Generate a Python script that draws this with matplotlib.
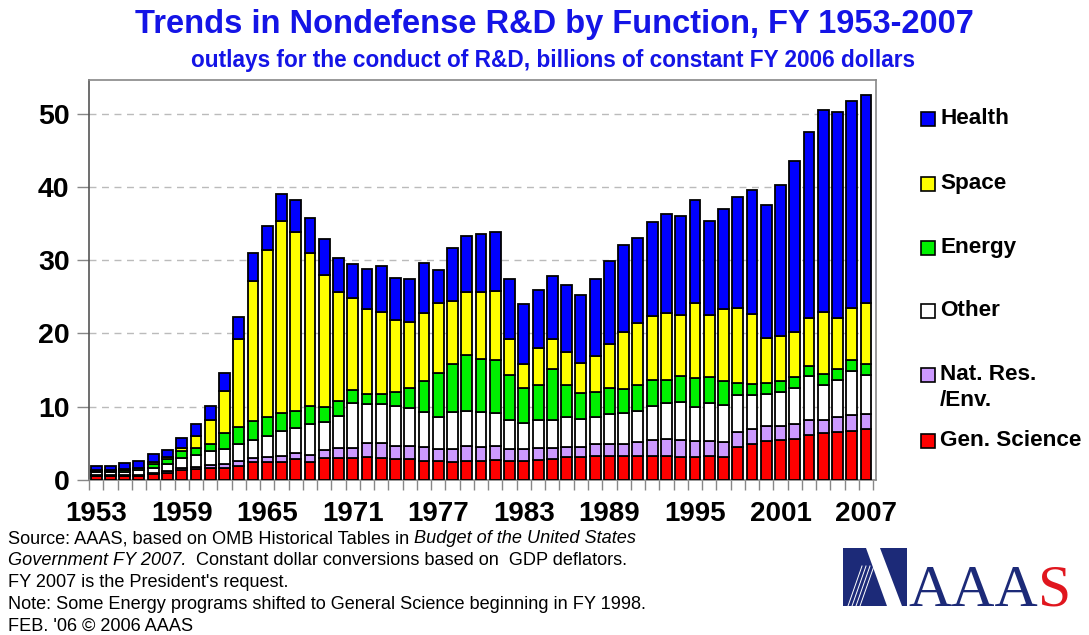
import matplotlib
matplotlib.use('Agg')
import matplotlib.pyplot as plt
from matplotlib.patches import Rectangle, Polygon
import numpy as np

# ---- data (billions of constant FY 2006 dollars) ----
years = list(range(1953, 2008))

gen_science = [0.5, 0.5, 0.55, 0.6, 0.8, 1.0, 1.3, 1.45, 1.6, 1.7,
               1.95, 2.4, 2.4, 2.5, 2.8, 2.5, 3.05, 2.95, 3.05, 3.2,
               2.95, 2.8, 2.8, 2.65, 2.65, 2.5, 2.6, 2.6, 2.7, 2.65,
               2.65, 2.7, 2.8, 3.1, 3.2, 3.3, 3.3, 3.3, 3.3, 3.3,
               3.3, 3.2, 3.2, 3.3, 3.2, 4.55, 4.85, 5.35, 5.45, 5.6,
               6.15, 6.45, 6.6, 6.7, 6.9]
nat_res = [0.15, 0.15, 0.15, 0.15, 0.2, 0.2, 0.3, 0.35, 0.45, 0.55,
           0.65, 0.6, 0.7, 0.8, 0.9, 0.9, 1.05, 1.35, 1.35, 1.8,
           2.05, 1.9, 1.9, 1.9, 1.55, 1.7, 2.1, 1.95, 1.95, 1.55,
           1.55, 1.6, 1.5, 1.45, 1.25, 1.6, 1.6, 1.6, 1.9, 2.15,
           2.25, 2.25, 2.15, 2.05, 2.0, 2.05, 2.05, 2.0, 1.95, 2.0,
           2.05, 1.75, 1.95, 2.15, 2.05]
other = [0.4, 0.4, 0.45, 0.55, 0.6, 1.0, 1.45, 1.6, 1.85, 2.0,
         2.3, 2.5, 2.95, 3.4, 3.35, 4.3, 3.85, 4.4, 6.05, 5.4,
         5.4, 5.4, 5.1, 4.75, 4.4, 5.1, 4.7, 4.75, 4.55, 4.0,
         3.6, 3.9, 3.9, 4.05, 3.85, 3.65, 4.1, 4.3, 4.2, 4.65,
         4.9, 5.25, 4.65, 5.1, 5.1, 5.0, 4.7, 4.35, 4.65, 5.0,
         6.0, 4.8, 5.15, 6.05, 5.35]
energy = [0.2, 0.2, 0.25, 0.3, 0.6, 0.6, 0.85, 0.9, 1.0, 2.15,
          2.4, 2.6, 2.5, 2.5, 2.35, 2.4, 2.05, 2.1, 1.85, 1.3,
          1.4, 1.85, 2.8, 4.2, 6.0, 6.5, 7.65, 7.15, 7.2, 6.1,
          4.7, 4.75, 7.0, 4.35, 3.6, 3.5, 3.5, 3.2, 3.55, 3.5,
          3.25, 3.5, 3.95, 3.65, 3.2, 1.7, 1.45, 1.6, 1.45, 1.4,
          1.4, 1.45, 1.4, 1.5, 1.5]
space = [0.1, 0.1, 0.1, 0.1, 0.2, 0.3, 0.5, 1.7, 3.3, 5.75,
         11.9, 19.05, 22.9, 26.1, 24.4, 20.9, 17.95, 14.8, 12.6, 11.7,
         11.15, 9.95, 9.0, 9.3, 9.5, 8.7, 8.65, 9.15, 9.4, 4.9,
         3.4, 5.0, 4.0, 4.55, 4.1, 4.85, 6.1, 7.8, 8.45, 8.8,
         9.1, 8.3, 10.25, 8.4, 9.8, 10.2, 9.65, 6.1, 6.1, 6.2,
         6.45, 8.5, 7.0, 7.1, 8.4]
health = [0.6, 0.55, 0.77, 0.9, 1.1, 1.0, 1.3, 1.6, 1.9, 2.5,
          3.1, 3.8, 3.2, 3.8, 4.4, 4.7, 4.95, 4.7, 4.6, 5.4,
          6.25, 5.7, 5.9, 6.8, 4.5, 7.1, 7.6, 8.0, 8.1, 8.2,
          8.1, 7.95, 8.6, 9.1, 9.3, 10.6, 11.3, 11.9, 11.6, 12.8,
          13.5, 13.5, 14.0, 12.9, 13.75, 15.1, 16.9, 18.2, 20.6, 23.3,
          25.45, 27.5, 28.2, 28.2, 28.3]

label_years = [1953, 1959, 1965, 1971, 1977, 1983, 1989, 1995, 2001, 2007]

# bottom to top stacking order
series = [
    ('Gen. Science', gen_science, '#ff0000'),
    ('Nat. Res.\n/Env.', nat_res, '#cc99ff'),
    ('Other', other, '#ffffff'),
    ('Energy', energy, '#00f000'),
    ('Space', space, '#ffff00'),
    ('Health', health, '#0000ff'),
]

TITLE_BLUE = '#1414e6'
W, H = 1089, 635
plt.rcParams['font.family'] = ['Liberation Sans', 'DejaVu Sans']

fig = plt.figure(figsize=(W / 100, H / 100), dpi=100)
fig.patch.set_facecolor('white')

# main plot area (pixel box: x 89..876, y 80..480)
ax = fig.add_axes([89 / W, 1 - 480 / H, (876 - 89) / W, 400 / H])

x = np.array(years)
bottom = np.zeros(len(years))
for name, vals, col in series:
    vals = np.array(vals)
    ax.bar(x, vals, bottom=bottom, width=0.76, color=col,
           edgecolor='black', linewidth=1.3, zorder=3)
    bottom += vals

ax.set_xlim(1952.5, 2007.7)
ax.set_ylim(0, 54.6)

ax.set_yticks([0, 10, 20, 30, 40, 50])
ax.set_yticklabels(['0', '10', '20', '30', '40', '50'],
                   fontsize=20.5, fontweight='bold')
ax.tick_params(axis='y', length=9, width=1, color='#888888', pad=5)
for yv in [10, 20, 30, 40, 50]:
    ax.axhline(yv, color='#bbbbbb', linestyle=(0, (5, 4)), linewidth=1, zorder=1)

ax.set_xticks(label_years)
ax.set_xticklabels([str(y) for y in label_years], fontsize=20, fontweight='bold')
ax.tick_params(axis='x', which='major', length=0, pad=15)
ax.set_xticks(np.arange(1952.5, 2008, 1.0), minor=True)
ax.tick_params(axis='x', which='minor', length=7, width=1, color='#888888')

for sp in ['top', 'right', 'bottom']:
    ax.spines[sp].set_color('#888888')
ax.spines['left'].set_color('#555555')
for sp in ax.spines.values():
    sp.set_linewidth(1.2)

# titles
fig.text(554 / W, 1 - 25 / H, 'Trends in Nondefense R&D by Function, FY 1953-2007',
         ha='center', va='center', fontsize=23.5, fontweight='bold', color=TITLE_BLUE)
fig.text(553 / W, 1 - 61 / H,
         'outlays for the conduct of R&D, billions of constant FY 2006 dollars',
         ha='center', va='center', fontsize=16.3, fontweight='bold', color=TITLE_BLUE)

# overlay in pixel coordinates for the legend and logo
ov = fig.add_axes([0, 0, 1, 1])
ov.set_xlim(0, W)
ov.set_ylim(H, 0)
ov.axis('off')
ov.patch.set_alpha(0)

legend_y = {'Health': 119, 'Space': 184, 'Energy': 248, 'Other': 311,
            'Nat. Res.\n/Env.': 375, 'Gen. Science': 441}
for name, vals, col in series:
    yc = legend_y[name]
    ov.add_patch(Rectangle((921, yc - 7), 14, 14, facecolor=col,
                           edgecolor='black', linewidth=1.2))
    if '\n' in name:
        ov.text(940, yc - 11, name, ha='left', va='top', fontsize=16.2,
                fontweight='bold', linespacing=1.3)
    else:
        ov.text(940, yc, name, ha='left', va='center', fontsize=16.2,
                fontweight='bold')

# source note with italic parts
lines = [
    [('Source: AAAS, based on OMB Historical Tables in ', 'normal'),
     ('Budget of the United States', 'italic')],
    [('Government FY 2007.', 'italic'),
     ('  Constant dollar conversions based on  GDP deflators.', 'normal')],
    [("FY 2007 is the President's request.", 'normal')],
    [('Note: Some Energy programs shifted to General Science beginning in FY 1998.', 'normal')],
    [("FEB. '06 \u00a9 2006 AAAS", 'normal')],
]
fig.canvas.draw()
renderer = fig.canvas.get_renderer()
baselines = [543, 565, 587, 609, 631]
for parts, yb in zip(lines, baselines):
    xp = 8
    for txt, style in parts:
        t = ov.text(xp, yb, txt, ha='left', va='baseline', fontsize=13.1,
                    fontstyle=style, color='black')
        bb = t.get_window_extent(renderer=renderer)
        xp += bb.width

# AAAS logo
navy = '#1c2a78'
ov.add_patch(Polygon([(843, 548), (907, 548), (907, 606), (843, 606)],
                     closed=True, facecolor=navy, edgecolor='none'))
ov.add_patch(Polygon([(866, 548), (880, 548), (902, 606), (887, 606)],
                     closed=True, facecolor='white', edgecolor='none'))
for k in range(4):
    ov.plot([848 + 4 * k, 862 + 4 * k], [606, 566], color='white', linewidth=0.7)
ov.text(908, 606, 'AAA', ha='left', va='baseline', fontsize=43,
        family='Liberation Serif', color=navy)
t = ov.text(908, 606, 'AAA', alpha=0, ha='left', va='baseline', fontsize=43,
            family='Liberation Serif')
bb = t.get_window_extent(renderer=renderer)
ov.text(908 + bb.width, 606, 'S', ha='left', va='baseline', fontsize=43,
        family='Liberation Serif', color='#e0161e')

fig.savefig('out.png', dpi=100)
